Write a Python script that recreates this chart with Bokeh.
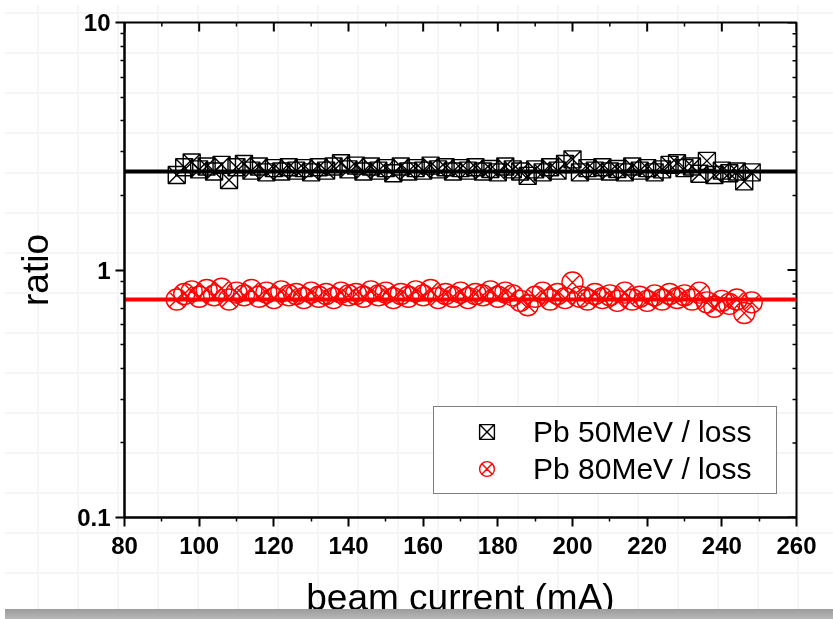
import math
from bokeh.plotting import figure
from bokeh.layouts import column
from bokeh.models import (Range1d, FixedTicker, NumeralTickFormatter, Legend, LegendItem, Div)
from bokeh.embed import file_html
from bokeh.resources import INLINE

# ---- data ----
beam_current = [94, 96, 98, 100, 102, 104, 106, 108, 110, 112, 114, 116, 118, 120, 122, 124,
                126, 128, 130, 132, 134, 136, 138, 140, 142, 144, 146, 148, 150, 152, 154, 156,
                158, 160, 162, 164, 166, 168, 170, 172, 174, 176, 178, 180, 182, 184, 186, 188,
                190, 192, 194, 196, 198, 200, 202, 204, 206, 208, 210, 212, 214, 216, 218, 220,
                222, 224, 226, 228, 230, 232, 234, 236, 238, 240, 242, 244, 246, 248]
pb50_ratio = [2.42, 2.60, 2.72, 2.55, 2.62, 2.50, 2.66, 2.31, 2.60, 2.68, 2.52, 2.62, 2.48, 2.58,
              2.50, 2.60, 2.52, 2.58, 2.48, 2.60, 2.52, 2.62, 2.70, 2.55, 2.64, 2.50, 2.62, 2.52,
              2.58, 2.46, 2.62, 2.50, 2.58, 2.52, 2.64, 2.55, 2.60, 2.50, 2.58, 2.52, 2.60, 2.50,
              2.56, 2.48, 2.62, 2.55, 2.50, 2.40, 2.55, 2.48, 2.60, 2.52, 2.68, 2.80, 2.48, 2.58,
              2.52, 2.60, 2.50, 2.56, 2.48, 2.62, 2.52, 2.58, 2.48, 2.55, 2.66, 2.70, 2.58, 2.62,
              2.45, 2.76, 2.42, 2.52, 2.46, 2.50, 2.28, 2.48]
pb80_ratio = [0.76, 0.80, 0.82, 0.78, 0.83, 0.79, 0.84, 0.76, 0.81, 0.79, 0.83, 0.78, 0.81, 0.77,
              0.82, 0.79, 0.80, 0.77, 0.81, 0.78, 0.80, 0.77, 0.81, 0.79, 0.80, 0.78, 0.82, 0.79,
              0.81, 0.77, 0.80, 0.78, 0.82, 0.79, 0.83, 0.77, 0.80, 0.78, 0.81, 0.77, 0.80, 0.79,
              0.82, 0.78, 0.81, 0.79, 0.75, 0.72, 0.78, 0.81, 0.76, 0.80, 0.77, 0.89, 0.78, 0.76,
              0.80, 0.77, 0.79, 0.75, 0.81, 0.76, 0.78, 0.75, 0.79, 0.76, 0.80, 0.77, 0.79, 0.76,
              0.81, 0.74, 0.71, 0.75, 0.73, 0.76, 0.67, 0.74]
fit_x = [80, 260]
pb50_fit = [2.5, 2.5]
pb80_fit = [0.76, 0.76]

series_labels = ["Pb 50MeV / loss", "Pb 80MeV / loss"]
x_label = "beam current (mA)"
y_label = "ratio"
x_major_ticks = list(range(80, 261, 20))
x_minor_ticks = list(range(90, 251, 20))
y_major_ticks = [0.1, 1, 10]
y_minor_ticks = [m * 10.0 ** e for e in (-1, 0) for m in range(2, 10)]

FONT = "Liberation Sans"
X0, X1, Y0, Y1 = 80, 260, 0.1, 10

p = figure(frame_width=672, frame_height=495,
           x_range=Range1d(X0, X1), y_range=Range1d(Y0, Y1), y_axis_type="log",
           output_backend="svg", toolbar_location=None,
           min_border_left=124, min_border_right=37, min_border_top=22, min_border_bottom=97)
p.grid.visible = False
p.outline_line_color = "black"
p.outline_line_width = 2
p.background_fill_color = None
p.border_fill_color = None

r50 = p.scatter(beam_current, pb50_ratio, marker="square_x", size=17,
                line_color="black", line_width=1.4, fill_alpha=0)
r80 = p.scatter(beam_current, pb80_ratio, marker="circle_x", size=21,
                line_color="#ff0000", line_width=1.4, fill_alpha=0)
p.line(fit_x, pb50_fit, line_color="black", line_width=4)
p.line(fit_x, pb80_fit, line_color="#ff0000", line_width=4)

# mirror ticks (inward) on the top and right frame edges
p.ray(x=x_major_ticks, y=[Y1] * len(x_major_ticks), length=9, length_units="screen",
      angle=-math.pi / 2, line_color="black", line_width=2)
p.ray(x=x_minor_ticks, y=[Y1] * len(x_minor_ticks), length=4, length_units="screen",
      angle=-math.pi / 2, line_color="black", line_width=1.5)
p.ray(x=[X1] * len(y_major_ticks), y=y_major_ticks, length=9, length_units="screen",
      angle=math.pi, line_color="black", line_width=2)
p.ray(x=[X1] * len(y_minor_ticks), y=y_minor_ticks, length=4, length_units="screen",
      angle=math.pi, line_color="black", line_width=1.5)


def style_axis(ax):
    ax.axis_line_width = 2
    ax.axis_line_color = "black"
    ax.major_tick_line_width = 2
    ax.minor_tick_line_width = 1.5
    ax.major_tick_line_color = "black"
    ax.minor_tick_line_color = "black"
    ax.major_tick_in = 0
    ax.major_tick_out = 9
    ax.minor_tick_in = 0
    ax.minor_tick_out = 4
    ax.major_label_text_font = FONT
    ax.major_label_text_font_style = "bold"
    ax.major_label_text_font_size = "24px"
    ax.major_label_text_color = "black"
    ax.axis_label_text_font = FONT
    ax.axis_label_text_font_style = "normal"
    ax.axis_label_text_font_size = "37px"
    ax.axis_label_text_color = "black"


xa = p.xaxis[0]
xa.ticker = FixedTicker(ticks=x_major_ticks, minor_ticks=x_minor_ticks)
xa.axis_label = x_label
style_axis(xa)
xa.major_label_standoff = 10
xa.axis_label_standoff = 20

ya = p.yaxis[0]
ya.ticker = FixedTicker(ticks=y_major_ticks, minor_ticks=y_minor_ticks)
ya.formatter = NumeralTickFormatter(format="0.[0]")
ya.axis_label = y_label
style_axis(ya)
ya.major_label_standoff = 5
ya.axis_label_standoff = 18

legend = Legend(items=[LegendItem(label=series_labels[0], renderers=[r50]),
                       LegendItem(label=series_labels[1], renderers=[r80])],
                location=(309, 23))
legend.label_text_font = FONT
legend.label_text_font_size = "30px"
legend.label_text_color = "black"
legend.label_height = 37
legend.glyph_height = 37
legend.glyph_width = 93
legend.label_standoff = 0
legend.label_width = 237
legend.spacing = 0
legend.padding = 6
legend.margin = 0
legend.border_line_color = "black"
legend.border_line_width = 1
legend.background_fill_color = "white"
legend.background_fill_alpha = 1
p.add_layout(legend, "center")

# faint page grid behind the chart and grey strip along the bottom of the page
page_grid = Div(text="", width=833, height=619, styles={
    "position": "fixed", "left": "0px", "top": "0px", "z-index": "-1",
    "background-color": "white",
    "background-image": "linear-gradient(to right, #f5f5f5 2px, transparent 2px), "
                        "linear-gradient(to bottom, #f5f5f5 2px, transparent 2px)",
    "background-size": "40px 40px",
    "background-position": "32px 7px"})
strip = Div(text="", width=833, height=15, styles={
    "position": "fixed", "left": "0px", "top": "604px", "z-index": "10",
    "background-image": "linear-gradient(to bottom, #9c9c9c, #c4c4c4)"})

layout = column(page_grid, p, strip)
open("out.html", "w").write(file_html(layout, INLINE))
